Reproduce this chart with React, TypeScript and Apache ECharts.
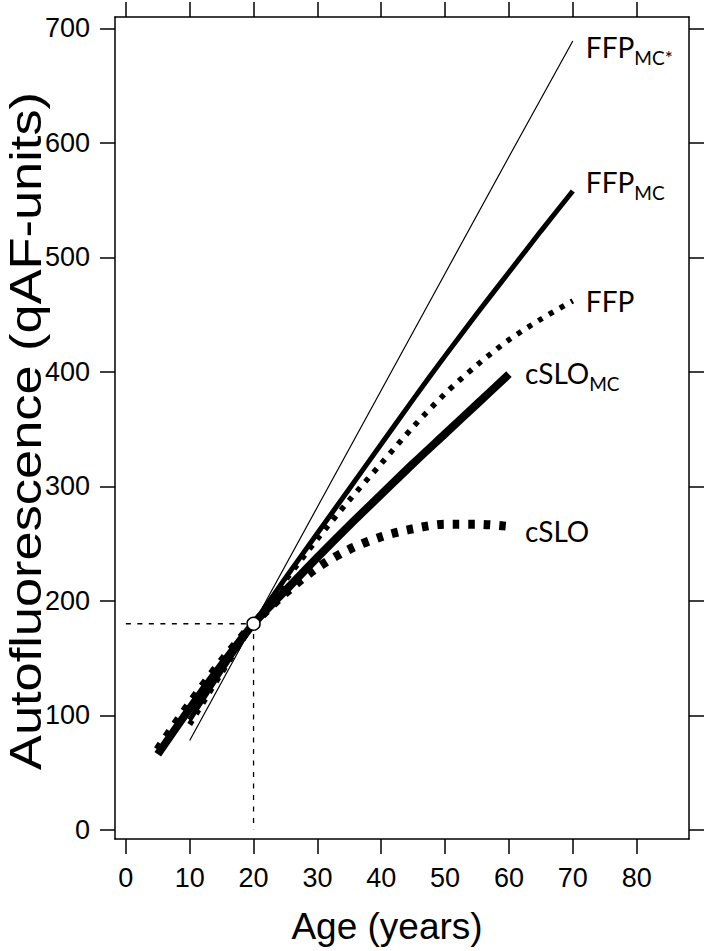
import React, { useEffect, useRef } from "react";
import * as echarts from "echarts";

// Tick values
const xTicks = [0, 10, 20, 30, 40, 50, 60, 70, 80];
const yTicks = [0, 100, 200, 300, 400, 500, 600, 700];

// cSLO curves (ages 5-60)
const agesCSLO = [5, 10, 15, 20, 25, 30, 35, 40, 45, 50, 55, 60];
const cSLO = [70, 110, 147, 180, 207, 229, 245, 256, 263, 267, 267, 265];
const cSLO_MC = [66, 106, 144, 180, 209, 238, 266, 293, 320, 346, 372, 398];

// FFP curves (ages 10-70)
const agesFFP = [10, 15, 20, 25, 30, 35, 40, 45, 50, 55, 60, 65, 70];
const FFP = [92, 137, 180, 218, 254, 288, 320, 352, 381, 406, 428, 446, 462];
const FFP_MC = [96, 139, 180, 220, 259, 298, 337, 376, 414, 451, 487, 523, 558];
const agesFFPstar = [10, 20, 30, 40, 50, 60, 70];
const FFP_MCstar = [78, 180, 282, 384, 486, 588, 689];

// Reference point (age 20, 180 qAF units)
const refPoint = [20, 180];
const refLine = [
  [0, 180],
  [20, 180],
  [20, 0],
];

const pairs = (xs: number[], ys: number[]) => xs.map((x, i) => [x, ys[i]]);

const AXIS_FONT = "'Liberation Sans', Arial, Helvetica, sans-serif";
const LABEL_FONT = "Lato, 'Open Sans', sans-serif";

const rich = {
  m: { fontSize: 28, lineHeight: 40, fontFamily: LABEL_FONT, color: "#000", verticalAlign: "middle" },
  s: { fontSize: 19, lineHeight: 18, fontFamily: LABEL_FONT, color: "#000", verticalAlign: "bottom" },
};

const endLabel = (fmt: string, distance: number, dy: number) => ({
  show: true,
  formatter: fmt,
  distance,
  offset: [0, dy],
  color: "#000",
  rich,
});

const axisCommon = {
  type: "value" as const,
  axisLine: { show: true, onZero: false, lineStyle: { color: "#000", width: 1.5 } },
  splitLine: { show: false },
};

export default function App() {
  const ref = useRef<HTMLDivElement>(null);
  useEffect(() => {
    document.body.style.margin = "0";
    const chart = echarts.init(ref.current!, null, { renderer: "svg" });
    const xAxisBase = {
      ...axisCommon,
      min: -1.7,
      max: 88.2,
      axisTick: { show: true, inside: false, length: 15, customValues: xTicks, lineStyle: { color: "#000", width: 1.5 } },
    };
    const yAxisBase = {
      ...axisCommon,
      min: -8,
      max: 710,
      axisTick: { show: true, inside: false, length: 15, customValues: yTicks, lineStyle: { color: "#000", width: 1.5 } },
    };
    chart.setOption({
      animation: false,
      backgroundColor: "#fff",
      grid: { left: 115, right: 18, top: 17, bottom: 112, containLabel: false },
      xAxis: [
        {
          ...xAxisBase,
          position: "bottom",
          name: "Age (years)",
          nameLocation: "middle",
          nameGap: 69,
          nameTextStyle: { fontSize: 37, fontFamily: AXIS_FONT, color: "#000", padding: [0, 30, 0, 0] },
          axisLabel: { show: true, customValues: xTicks, margin: 25, fontSize: 27, fontFamily: AXIS_FONT, color: "#000" },
        },
        {
          ...xAxisBase,
          position: "top",
          axisLabel: { show: false },
        },
      ],
      yAxis: [
        {
          ...yAxisBase,
          position: "left",
          axisLabel: { show: true, customValues: yTicks, margin: 25, fontSize: 27, fontFamily: AXIS_FONT, color: "#000" },
        },
        {
          ...yAxisBase,
          position: "right",
          axisLabel: { show: false },
        },
      ],
      graphic: [
        {
          type: "text",
          x: 26,
          y: 431,
          rotation: Math.PI / 2,
          scaleX: 1.19,
          style: {
            text: "Autofluorescence (qAF-units)",
            fontSize: 44,
            fontFamily: AXIS_FONT,
            fill: "#000",
            align: "center",
            verticalAlign: "middle",
          },
        },
      ],
      series: [
        {
          name: "FFP_MC*",
          type: "line",
          data: pairs(agesFFPstar, FFP_MCstar),
          showSymbol: false,
          symbol: "none",
          lineStyle: { color: "#000", width: 1.2 },
          endLabel: endLabel("{m|FFP}{s|MC*}", 13, 6),
          z: 3,
        },
        {
          name: "FFP_MC",
          type: "line",
          data: pairs(agesFFP, FFP_MC),
          symbol: "none",
          smooth: 0.3,
          lineStyle: { color: "#000", width: 5, cap: "butt" },
          endLabel: endLabel("{m|FFP}{s|MC}", 13, -9),
          z: 3,
        },
        {
          name: "FFP",
          type: "line",
          data: pairs(agesFFP, FFP),
          symbol: "none",
          smooth: 0.3,
          lineStyle: { color: "#000", width: 5.5, type: [5, 7.5], cap: "butt" },
          endLabel: endLabel("{m|FFP}", 13, 0),
          z: 3,
        },
        {
          name: "cSLO_MC",
          type: "line",
          data: pairs(agesCSLO, cSLO_MC),
          symbol: "none",
          smooth: 0.3,
          lineStyle: { color: "#000", width: 8, cap: "butt" },
          endLabel: endLabel("{m|cSLO}{s|MC}", 16, -1),
          z: 3,
        },
        {
          name: "cSLO",
          type: "line",
          data: pairs(agesCSLO, cSLO),
          symbol: "none",
          smooth: 0.3,
          lineStyle: { color: "#000", width: 9, type: [6.5, 9], cap: "butt" },
          endLabel: endLabel("{m|cSLO}", 16, 4.5),
          z: 3,
        },
        {
          name: "reference",
          type: "line",
          data: refLine,
          symbol: "none",
          lineStyle: { color: "#000", width: 1.3, type: [5, 6.5] },
          z: 2,
        },
        {
          name: "age 20",
          type: "scatter",
          data: [refPoint],
          symbol: "circle",
          symbolSize: 13,
          itemStyle: { color: "#fff", borderColor: "#000", borderWidth: 1.5, opacity: 1 },
          z: 10,
        },
      ],
    });
    return () => chart.dispose();
  }, []);
  return <div ref={ref} style={{ width: 707, height: 951 }} />;
}
